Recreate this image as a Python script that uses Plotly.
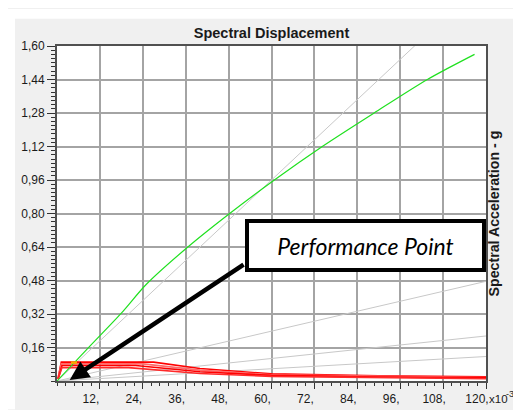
import plotly.graph_objects as go

# ---------------- data ----------------
x_tick_vals = [12, 24, 36, 48, 60, 72, 84, 96, 108, 120]
x_tick_text = ["12,", "24,", "36,", "48,", "60,", "72,", "84,", "96,", "108,", "120,"]
y_tick_vals = [0.16, 0.32, 0.48, 0.64, 0.80, 0.96, 1.12, 1.28, 1.44, 1.60]
y_tick_text = ["0,16", "0,32", "0,48", "0,64", "0,80", "0,96", "1,12", "1,28", "1,44", "1,60"]

# capacity curve (green)
green_x = [0, 9, 18, 25, 36.6, 48.3, 60.8, 74.2, 88.7, 103.6, 116.8]
green_y = [0, 0.163, 0.324, 0.462, 0.64, 0.80, 0.96, 1.12, 1.28, 1.44, 1.56]

# constant-period radial lines (grey)
period_x = [0, 120]
period_end_y = [1.92, 0.476, 0.215, 0.117]

# demand spectra (red)
red1_x = [0.3, 1.2, 27, 40, 60, 90, 120]
red1_y = [0.012, 0.090, 0.090, 0.060, 0.034, 0.025, 0.020]
red2_x = [0.3, 1.2, 24, 40, 60, 90, 120]
red2_y = [0.012, 0.082, 0.082, 0.052, 0.030, 0.022, 0.017]
red3_x = [0.3, 1.4, 22, 40, 60, 90, 120]
red3_y = [0.010, 0.074, 0.074, 0.044, 0.027, 0.019, 0.015]
red4_x = [0.3, 1.4, 20, 40, 60, 90, 120]
red4_y = [0.010, 0.064, 0.064, 0.036, 0.022, 0.015, 0.011]

# performance point marker
perf_x = [3.9, 5.6]
perf_y = [0.088, 0.088]

# ---------------- figure ----------------
fig = go.Figure()

for ye in period_end_y:
    fig.add_trace(go.Scatter(x=period_x, y=[0, ye], mode="lines",
                             line=dict(color="#c8c8c8", width=1), hoverinfo="skip"))

red_sets = [(red1_x, red1_y, "#ff0000"), (red2_x, red2_y, "#ff6a6a"),
            (red3_x, red3_y, "#ff0000"), (red4_x, red4_y, "#ff2a2a")]
for rx, ry, c in red_sets:
    fig.add_trace(go.Scatter(x=rx, y=ry, mode="lines", line=dict(color=c, width=1.6)))

fig.add_trace(go.Scatter(x=green_x, y=green_y, mode="lines",
                         line=dict(color="#1fe01f", width=1.2, shape="spline", smoothing=0.8)))

fig.add_trace(go.Scatter(x=perf_x, y=perf_y, mode="lines",
                         line=dict(color="#ffa500", width=2.5)))

W, H = 521, 410
L, R, T, B = 49, 43, 38, 29
pw, ph = W - L - R, H - T - B


def px(xp):
    return (xp - L) / pw


def py(yp):
    return (H - B - yp) / ph


fig.update_layout(
    width=W, height=H,
    margin=dict(l=L, r=R, t=T, b=B),
    paper_bgcolor="#f0f0f0",
    plot_bgcolor="white",
    showlegend=False,
    font=dict(family="Liberation Sans, Arial, sans-serif", size=12, color="#1a1a1a"),
    title=dict(text="<b>Spectral Displacement</b>", x=0.5, xref="paper",
               y=1 - 25 / H, yanchor="middle", xanchor="center",
               font=dict(size=14.5, color="#1a1a1a")),
)

fig.update_xaxes(
    range=[0, 120], tickmode="array", tickvals=x_tick_vals, ticktext=x_tick_text,
    showgrid=True, gridcolor="#a4a4a4", gridwidth=2,
    ticks="outside", ticklen=6, tickcolor="#333", tickwidth=1,
    showline=True, linecolor="#505050", linewidth=2, mirror=True, zeroline=False,
    minor=dict(dtick=2.4, tick0=0, ticks="outside", ticklen=3, tickcolor="#333", showgrid=False),
    ticklabelshift=-9, tickfont=dict(size=12),
)
fig.update_yaxes(
    range=[0, 1.6], tickmode="array", tickvals=y_tick_vals, ticktext=y_tick_text,
    showgrid=True, gridcolor="#a4a4a4", gridwidth=2,
    ticks="outside", ticklen=8, tickcolor="#333", tickwidth=1,
    showline=True, linecolor="#505050", linewidth=2, mirror=True, zeroline=False,
    minor=dict(dtick=0.02, tick0=0, ticks="outside", ticklen=4, tickcolor="#333", showgrid=False),
    tickfont=dict(size=12),
)

# white borders at top and left of the window
fig.add_shape(type="rect", xref="paper", yref="paper", x0=px(0), x1=px(W), y0=py(10), y1=py(0),
              fillcolor="white", line=dict(width=0), layer="above")
fig.add_shape(type="rect", xref="paper", yref="paper", x0=px(0), x1=px(7), y0=py(H), y1=py(0),
              fillcolor="white", line=dict(width=0), layer="above")

# right axis title
fig.add_annotation(text="<b>Spectral Acceleration - g</b>", textangle=-90,
                   xref="paper", yref="paper", x=px(495), y=0.5,
                   showarrow=False, font=dict(size=14.2, color="#1a1a1a"))
# x exponent: "x10" plus raised "-3"
fig.add_annotation(text="x10", xref="paper", yref="paper",
                   x=px(490), y=py(399), xanchor="center", yanchor="middle",
                   showarrow=False, font=dict(size=11.5, color="#1a1a1a"))
fig.add_annotation(text="-3", xref="paper", yref="paper",
                   x=px(502), y=py(394), xanchor="center", yanchor="middle",
                   showarrow=False, font=dict(size=9, color="#1a1a1a"))

# arrow
fig.add_annotation(text="", x=3.55, y=0.005, ax=52.6, ay=0.56, axref="x", ayref="y",
                   xref="x", yref="y", showarrow=True, arrowhead=2, arrowsize=0.85,
                   arrowwidth=4.5, arrowcolor="black", standoff=0)
# performance point box
fig.add_annotation(text="<i>Performance Point</i>", xref="paper", yref="paper",
                   x=px(357.5), y=py(242.5), xanchor="center", yanchor="middle",
                   width=233, height=45, bgcolor="white", bordercolor="black",
                   borderwidth=4, borderpad=0, showarrow=False,
                   font=dict(family="Lato, Open Sans, sans-serif", size=23, color="black"))

fig.write_html("out.html")
